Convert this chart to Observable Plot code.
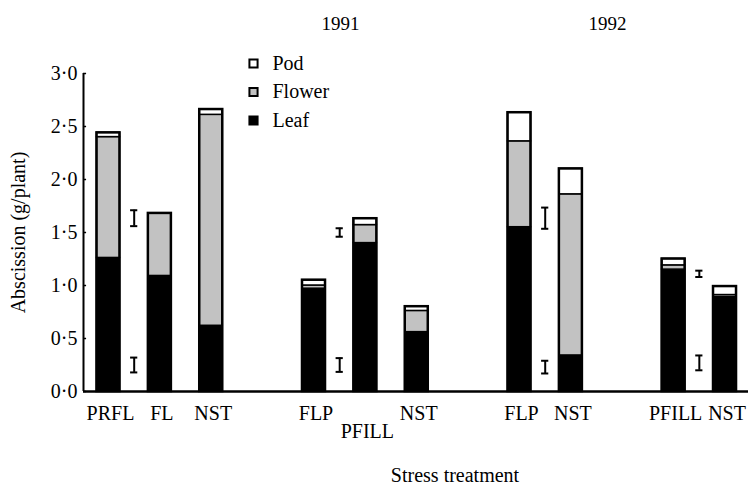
<!DOCTYPE html>
<html><head><meta charset="utf-8">
<script src="https://cdn.jsdelivr.net/npm/d3@7"></script>
<script src="https://cdn.jsdelivr.net/npm/@observablehq/plot@0.6"></script>
<style>body{margin:0;background:#fff}</style>
</head><body><div id="chart"></div>
<script>
// ---- data ----
const treatments = ["PRFL", "FL", "NST", "FLP", "PFILL", "NST", "FLP", "NST", "PFILL", "NST"];
const years      = ["1991", "1991", "1991", "1991", "1991", "1991", "1992", "1992", "1992", "1992"];
const leaf   = [1.26, 1.09, 0.62, 0.97, 1.40, 0.56, 1.55, 0.34, 1.15, 0.89];
const flower = [1.14, 0.59, 1.99, 0.03, 0.17, 0.20, 0.81, 1.52, 0.04, 0.02];
const pod    = [0.04, 0.00, 0.05, 0.05, 0.06, 0.04, 0.27, 0.24, 0.06, 0.08];
// error bars: mean and half-length, placed after bar index
const errAfter = [0, 0, 3, 3, 6, 6, 8, 8];
const errMid   = [1.635, 0.25, 1.50, 0.25, 1.635, 0.23, 1.11, 0.27];
const errHalf  = [0.075, 0.07, 0.04, 0.065, 0.10, 0.06, 0.03, 0.07];
const yTicks = [0, 0.5, 1.0, 1.5, 2.0, 2.5, 3.0];
const parts = ["Pod", "Flower", "Leaf"];
const yearLabels = ["1991", "1992"];

// ---- layout ----
const slot = [0, 1, 2, 4, 5, 6, 8, 9, 11, 12];
const xDom = [-0.4866, 12.457];
const hw = 0.224;
const fills = {Leaf: "#000000", Flower: "#c2c2c2", Pod: "#ffffff"};
const lowered = [4]; // label drawn on second row
const FS = 20;

const segs = [];
const bars = treatments.map((t, i) => {
  const l = leaf[i], f = flower[i], p = pod[i];
  segs.push({i, part: "Leaf", y1: 0, y2: l});
  if (f > 0) segs.push({i, part: "Flower", y1: l, y2: l + f});
  if (p > 0) segs.push({i, part: "Pod", y1: l + f, y2: l + f + p});
  return {i, t, year: years[i], total: l + f + p};
});
const errs = errAfter.map((a, k) => ({x: (slot[a] + slot[a + 1]) / 2, lo: errMid[k] - errHalf[k], hi: errMid[k] + errHalf[k]}));
const capW = 0.07;
const fmt = d => d.toFixed(1).replace(".", "\u00b7");

const chart = Plot.plot({
  width: 748, height: 487,
  marginLeft: 83, marginRight: 0, marginTop: 73, marginBottom: 96,
  style: {fontFamily: "'Liberation Serif', 'Times New Roman', serif", fontSize: FS + "px", color: "#000", background: "#fff"},
  x: {domain: xDom, axis: null},
  y: {domain: [0, 3], axis: null},
  marks: [
    // y axis
    Plot.axisY(yTicks, {anchor: "left", tickSize: 0, tickPadding: 6, tickFormat: fmt, label: null, fontSize: FS}),
    Plot.ruleY(yTicks, {x1: xDom[0], x2: xDom[0] + 0.06, strokeWidth: 1.5}),
    Plot.ruleX([xDom[0]], {y1: 0, y2: 3, strokeWidth: 2}),
    Plot.text(["Abscission (g/plant)"], {frameAnchor: "left", dx: -65, rotate: -90, textAnchor: "middle", lineAnchor: "middle", fontSize: FS}),
    // stacked bars
    Plot.rect(segs, {x1: d => slot[d.i] - hw, x2: d => slot[d.i] + hw, y1: "y1", y2: "y2",
      fill: d => fills[d.part], stroke: "#000", strokeWidth: 1.5}),
    Plot.rect(bars, {x1: d => slot[d.i] - hw, x2: d => slot[d.i] + hw, y1: 0, y2: "total",
      fill: "none", stroke: "#000", strokeWidth: 2.5}),
    // baseline
    Plot.ruleY([0], {strokeWidth: 2.5}),
    // error bars
    Plot.ruleX(errs, {x: "x", y1: "lo", y2: "hi", strokeWidth: 2}),
    Plot.ruleY(errs, {y: "lo", x1: d => d.x - capW, x2: d => d.x + capW, strokeWidth: 2}),
    Plot.ruleY(errs, {y: "hi", x1: d => d.x - capW, x2: d => d.x + capW, strokeWidth: 2}),
    // category labels
    Plot.text(bars.filter(d => !lowered.includes(d.i)), {x: d => slot[d.i], y: 0, text: "t", dy: 22, dx: 2, fontSize: FS}),
    Plot.text(bars.filter(d => lowered.includes(d.i)), {x: d => slot[d.i], y: 0, text: "t", dy: 40, dx: 2, fontSize: FS}),
    // x axis title
    Plot.text(["Stress treatment"], {frameAnchor: "bottom", dx: 39, dy: 84, textAnchor: "middle", lineAnchor: "middle", fontSize: FS}),
    // year labels
    Plot.text([yearLabels[0]], {frameAnchor: "top-left", dx: 257, dy: -50, textAnchor: "middle", lineAnchor: "middle", fontSize: 19}),
    Plot.text([yearLabels[1]], {frameAnchor: "top-left", dx: 524, dy: -50, textAnchor: "middle", lineAnchor: "middle", fontSize: 19}),
    // legend
    ...parts.map((p, j) => Plot.dot([p], {frameAnchor: "top-left", dx: 170, dy: -10 + j * 28.5,
      symbol: "square", r: 4.6, fill: fills[p], stroke: "#000", strokeWidth: 2})),
    ...parts.map((p, j) => Plot.text([p], {frameAnchor: "top-left", dx: 189, dy: -10 + j * 28.5,
      textAnchor: "start", lineAnchor: "middle", fontSize: FS}))
  ]
});
document.getElementById("chart").appendChild(chart);
</script>
</body></html>
